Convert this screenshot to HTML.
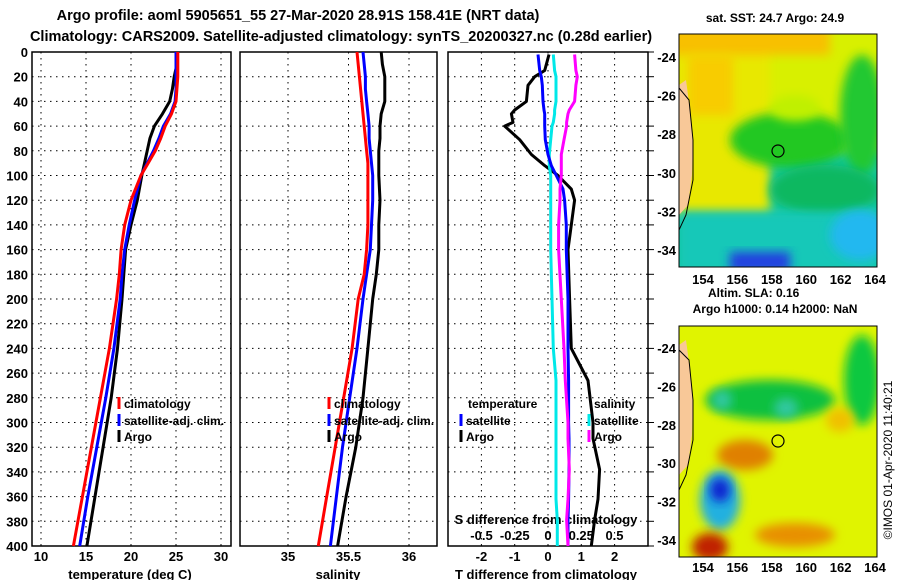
<!DOCTYPE html>
<html><head><meta charset="utf-8"><style>
html,body{margin:0;padding:0;background:#fff;}
svg{display:block;font-family:"Liberation Sans",sans-serif;font-weight:bold;}
</style></head><body>
<svg id="chart" width="900" height="580" viewBox="0 0 900 580">
<defs>
<filter id="bl" x="-30%" y="-30%" width="160%" height="160%"><feGaussianBlur stdDeviation="5"/></filter>
<clipPath id="m1"><rect x="679" y="34" width="198" height="233"/></clipPath>
<clipPath id="m2"><rect x="679" y="326" width="198" height="231"/></clipPath>
</defs>
<text x="298" y="20" font-size="14.5" text-anchor="middle">Argo profile: aoml 5905651_55 27-Mar-2020 28.91S 158.41E (NRT data)</text>
<text x="341" y="41" font-size="14.5" text-anchor="middle">Climatology: CARS2009. Satellite-adjusted climatology: synTS_20200327.nc (0.28d earlier)</text>

<!-- SST map -->
<g clip-path="url(#m1)">
<rect x="679" y="34" width="198" height="233" fill="#18c8a0"/>
<rect x="679" y="20" width="210" height="130" fill="#d8f000" filter="url(#bl)"/>
<rect x="670" y="34" width="100" height="180" fill="#e8e800" filter="url(#bl)"/>
<rect x="670" y="25" width="160" height="30" fill="#f8c000" filter="url(#bl)"/>
<rect x="688" y="55" width="45" height="60" fill="#f8cc00" filter="url(#bl)"/>
<ellipse cx="790" cy="140" rx="60" ry="28" fill="#20c820" filter="url(#bl)"/>
<ellipse cx="862" cy="115" rx="22" ry="60" fill="#20c830" filter="url(#bl)"/>
<ellipse cx="795" cy="108" rx="25" ry="13" fill="#c0f000" filter="url(#bl)"/>
<ellipse cx="825" cy="190" rx="55" ry="25" fill="#10b860" filter="url(#bl)"/>
<rect x="679" y="212" width="198" height="60" fill="#18c8b8" filter="url(#bl)"/>
<ellipse cx="860" cy="235" rx="30" ry="25" fill="#20b8f0" filter="url(#bl)"/>
<rect x="730" y="252" width="60" height="20" fill="#2040e0" filter="url(#bl)"/>
<polygon points="679,85 686,80 690,110 693,140 692,175 688,205 679,215" fill="#f8c898"/>
<polyline points="679,88 689,100 693,140 693,180 686,215 679,230" fill="none" stroke="#000" stroke-width="1"/>
<circle cx="778" cy="151" r="6" fill="none" stroke="#000" stroke-width="1.2"/>
</g>
<rect x="679" y="34" width="198" height="233" fill="none" stroke="#000"/>
<text x="775" y="22" font-size="12" text-anchor="middle">sat. SST: 24.7 Argo: 24.9</text>

<!-- SLA map -->
<g clip-path="url(#m2)">
<rect x="679" y="326" width="198" height="231" fill="#e0f400"/>
<ellipse cx="770" cy="400" rx="65" ry="20" fill="#10c040" filter="url(#bl)"/>
<ellipse cx="862" cy="380" rx="18" ry="45" fill="#10c840" filter="url(#bl)"/>
<ellipse cx="722" cy="400" rx="10" ry="10" fill="#30c8a0" filter="url(#bl)"/>
<ellipse cx="786" cy="408" rx="12" ry="10" fill="#30c8a0" filter="url(#bl)"/>
<ellipse cx="745" cy="455" rx="28" ry="15" fill="#e08000" filter="url(#bl)"/>
<ellipse cx="720" cy="500" rx="20" ry="30" fill="#20b0e0" filter="url(#bl)"/>
<ellipse cx="720" cy="490" rx="10" ry="12" fill="#1020d0" filter="url(#bl)"/>
<ellipse cx="795" cy="535" rx="40" ry="12" fill="#e89000" filter="url(#bl)"/>
<ellipse cx="710" cy="547" rx="18" ry="14" fill="#c02000" filter="url(#bl)"/>
<ellipse cx="840" cy="420" rx="14" ry="12" fill="#f0c000" filter="url(#bl)"/>
<polygon points="679,345 686,340 690,370 693,400 692,435 688,465 679,475" fill="#f8c898"/>
<polyline points="679,350 689,360 693,400 693,440 686,475 679,490" fill="none" stroke="#000" stroke-width="1"/>
<circle cx="778" cy="441" r="6" fill="none" stroke="#000" stroke-width="1.2"/>
</g>
<rect x="679" y="326" width="198" height="231" fill="none" stroke="#000"/>
<text x="708" y="297" font-size="12">Altim. SLA: 0.16</text>
<text x="775" y="313" font-size="12" text-anchor="middle">Argo h1000: 0.14 h2000: NaN</text>
<text transform="translate(892,460) rotate(-90)" font-size="12" font-weight="normal" text-anchor="middle">©IMOS 01-Apr-2020 11:40:21</text>
<g id="axes"></g>
<g id="marks"></g>
</svg>
<script>
// ---- data ----
const depths = [0,10,20,30,40,50,60,70,80,90,100,120,140,160,180,200,240,280,320,360,400];
const tempClim = [25.2,25.2,25.2,25.1,25.0,24.5,23.8,23.3,22.7,21.9,21.1,20.0,19.3,18.9,18.7,18.4,17.6,16.6,15.6,14.6,13.6];
const tempSat  = [25.0,25.0,25.0,25.0,24.9,24.4,23.6,23.1,22.5,21.8,21.1,20.4,19.8,19.3,19.0,18.8,18.1,17.2,16.2,15.2,14.3];
const tempArgo = [25.1,25.1,24.8,24.6,24.3,23.5,22.6,22.1,21.8,21.5,21.2,20.7,20.0,19.4,19.2,19.0,18.5,17.8,16.9,16.0,15.1];
const salClim = [35.57,35.58,35.59,35.60,35.61,35.62,35.63,35.64,35.65,35.66,35.66,35.66,35.66,35.65,35.63,35.58,35.53,35.46,35.39,35.32,35.25];
const salSat  = [35.62,35.63,35.64,35.64,35.65,35.66,35.67,35.67,35.68,35.69,35.70,35.70,35.69,35.68,35.65,35.62,35.57,35.51,35.45,35.40,35.35];
const salArgo = [35.77,35.78,35.80,35.80,35.80,35.77,35.76,35.76,35.75,35.75,35.75,35.76,35.75,35.75,35.73,35.70,35.66,35.62,35.56,35.48,35.41];
const diffDepths = [2,15,20,27,40,47,50,57,60,71,83,92,100,111,120,140,160,200,240,266,300,313,338,362,379,400];
const diffTArgo = [0.03,-0.1,-0.4,-0.6,-0.65,-1.0,-1.1,-1.05,-1.3,-0.85,-0.5,-0.1,0.3,0.7,0.8,0.7,0.6,0.65,0.7,1.2,1.35,1.35,1.55,1.5,1.4,1.3];
const diffTSat  = [-0.3,-0.25,-0.2,-0.17,-0.15,-0.12,-0.1,-0.1,-0.1,-0.08,0,0.1,0.25,0.45,0.5,0.55,0.55,0.6,0.6,0.62,0.62,0.63,0.63,0.62,0.6,0.6];
const diffSSat  = [0.04,0.05,0.06,0.06,0.06,0.05,0.05,0.04,0.03,0.02,0.01,0.01,0.02,0.02,0.02,0.02,0.02,0.03,0.04,0.06,0.06,0.06,0.06,0.06,0.07,0.07];
const diffSArgo = [0.2,0.21,0.22,0.21,0.2,0.16,0.15,0.14,0.14,0.12,0.1,0.1,0.1,0.09,0.09,0.08,0.08,0.1,0.12,0.13,0.15,0.15,0.16,0.15,0.14,0.15];
const depthTicks = [0,20,40,60,80,100,120,140,160,180,200,220,240,260,280,300,320,340,360,380,400];
const tempTicks = [10,15,20,25,30];
const salTicks = [35,35.5,36];
const tdTicks = [-2,-1,0,1,2];
const sdTicks = [-0.5,-0.25,0,0.25,0.5];
const lonTicks = [154,156,158,160,162,164];
const latTicks = [-24,-26,-28,-30,-32,-34];

// ---- scales ----
const NS='http://www.w3.org/2000/svg';
const yD = d => 52 + d*1.235;
const xT = t => 41 + (t-10)*9.0;
const xS = s => 288 + (s-35)*121;
const xTD = t => 548 + t*33.3;
const xSD = s => 548 + s*133;
const xLon = l => 703 + (l-154)*17.2;
const yLat1 = l => 57 + (-24-l)*19.3;
const yLat2 = l => 348 + (-24-l)*19.2;
const axes=document.getElementById('axes'), marks=document.getElementById('marks');
function mk(tag, attrs, parent){const e=document.createElementNS(NS,tag);for(const k in attrs)e.setAttribute(k,attrs[k]);parent.appendChild(e);return e;}
function txt(x,y,s,size,anchor,parent){const e=mk('text',{x:x,y:y,'font-size':size,'text-anchor':anchor},parent);e.textContent=s;return e;}

const panels=[{x0:32,x1:231,name:'temperature'},{x0:240,x1:437,name:'salinity'},{x0:448,x1:648,name:'difference'}];
panels.forEach(p=>{
  const r=mk('rect',{x:p.x0,y:52,width:p.x1-p.x0,height:494,fill:'none',stroke:'#000','stroke-width':1.5},axes);
  
  
  depthTicks.forEach(d=>{ if(d>0&&d<400){
    const g=mk('line',{x1:p.x0,x2:p.x1,y1:yD(d),y2:yD(d),stroke:'#000','stroke-dasharray':'1.5,4.5'},axes);
    
    
  }});
});
depthTicks.forEach(d=>{
  const t=txt(28,yD(d)+5,String(d),13,'end',axes);
  
  
  const m=mk('line',{x1:648,x2:654,y1:yD(d),y2:yD(d),stroke:'#000'},axes);
  
  
});
function vgrid(ticks,fx,lab,y){ticks.forEach(v=>{
  const g=mk('line',{x1:fx(v),x2:fx(v),y1:52,y2:546,stroke:'#000','stroke-dasharray':'1.5,4.5'},axes);
  
  
  if(lab){const t=txt(fx(v),y,String(v),13,'middle',axes);
  
  }
});}
vgrid(tempTicks,xT,true,561);
vgrid(salTicks,xS,true,561);
vgrid(tdTicks,xTD,true,561);
sdTicks.forEach(v=>{const t=txt(xSD(v),540,String(v),13,'middle',axes);
  
  });
[['temperature (deg C)',130,'temperature-axis-title'],['salinity',338,'salinity-axis-title'],['T difference from climatology',546,'t-diff-axis-title']].forEach(a=>{
  const t=txt(a[1],579,a[0],13,'middle',axes);
  
  });
const sdt=txt(546,524,'S difference from climatology',13,'middle',axes);



// map axes
[[yLat1,284],[yLat2,572]].forEach((m,i)=>{
  latTicks.forEach(l=>{const t=txt(676,m[0](l)+5,String(l),13,'end',axes);
    
    });
  lonTicks.forEach(l=>{const t=txt(xLon(l),m[1],String(l),13,'middle',axes);
    
    });
});

function line(vals,deps,fx,color,name){
  const pts=vals.map((v,i)=>fx(v).toFixed(1)+','+yD(deps[i]).toFixed(1)).join(' ');
  const p=mk('polyline',{points:pts,fill:'none',stroke:color,'stroke-width':3,'stroke-linejoin':'round'},marks);
  
  
}
line(tempArgo,depths,xT,'#000','temp-argo-line');
line(tempSat,depths,xT,'#0000ff','temp-satellite-line');
line(tempClim,depths,xT,'#ff0000','temp-climatology-line');
line(salArgo,depths,xS,'#000','sal-argo-line');
line(salSat,depths,xS,'#0000ff','sal-satellite-line');
line(salClim,depths,xS,'#ff0000','sal-climatology-line');
line(diffTArgo,diffDepths,xTD,'#000','t-diff-argo-line');
line(diffSSat,diffDepths,xSD,'#00e8e8','s-diff-satellite-line');
line(diffTSat,diffDepths,xTD,'#0000ff','t-diff-satellite-line');
line(diffSArgo,diffDepths,xSD,'#ff00ff','s-diff-argo-line');

function legend(x,y,color,label){
  if(color){const m=mk('line',{x1:x,x2:x,y1:y-11,y2:y+1,stroke:color,'stroke-width':3},marks);
  
  }
  const t=txt(x+5,y,label,12,'start',marks);
  
  
}
legend(119,408,'#ff0000','climatology');legend(119,425,'#0000ff','satellite-adj. clim.');legend(119,441,'#000','Argo');
legend(329,408,'#ff0000','climatology');legend(329,425,'#0000ff','satellite-adj. clim.');legend(329,441,'#000','Argo');
legend(463,408,null,'temperature');legend(461,425,'#0000ff','satellite');legend(461,441,'#000','Argo');
legend(589,408,null,'salinity');legend(589,425,'#00e8e8','satellite');legend(589,441,'#ff00ff','Argo');
</script>
</body></html>
